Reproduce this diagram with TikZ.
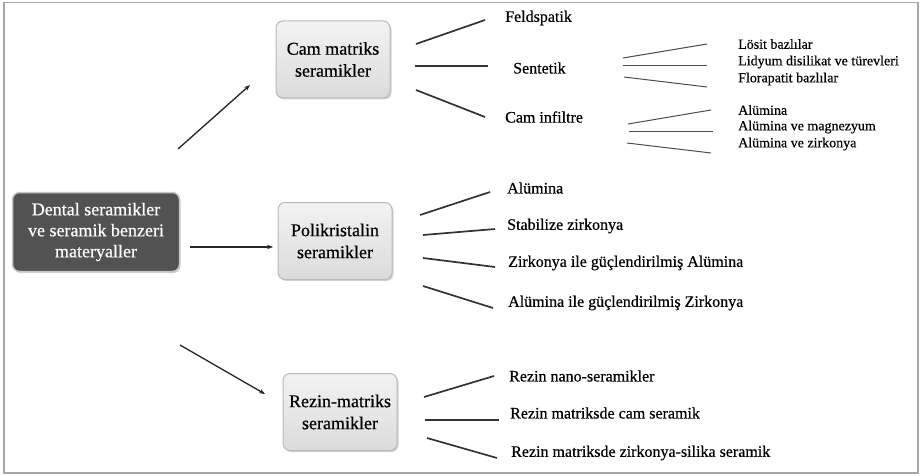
\documentclass[tikz,border=0pt]{standalone}
\usepackage{fontspec}
\setmainfont{Liberation Serif}[FakeBold=0.5]
\usetikzlibrary{shadows,arrows.meta}
\begin{document}
\begin{tikzpicture}[x=1pt,y=-1pt,
  catbox/.style={draw=gray!55,line width=1pt,rounded corners=7pt,top color=gray!10,bottom color=gray!28,
    minimum width=114pt,minimum height=77pt,align=center,font=\fontsize{18}{22}\selectfont,inner sep=2pt,
    drop shadow={shadow xshift=1.5pt,shadow yshift=-1.5pt,opacity=0.35}},
  rootbox/.style={fill=black!68,draw=gray!45,line width=1.5pt,rounded corners=7pt,text=white,
    minimum width=167pt,minimum height=79pt,align=center,font=\fontsize{18}{21}\selectfont,inner sep=2pt,
    drop shadow={shadow xshift=1pt,shadow yshift=-1.5pt,opacity=0.35}},
  lvtwo/.style={anchor=west,inner sep=0pt,font=\fontsize{16}{18}\selectfont},
  lvthree/.style={anchor=west,inner sep=0pt,font=\fontsize{14}{16}\selectfont},
  arr/.style={draw=black!85,line width=1.3pt,-{Stealth[length=6pt,width=4.5pt]}},
  brline/.style={draw=black!80,line width=1.7pt},
  subline/.style={draw=black!70,line width=1pt}]
\useasboundingbox (0,0) rectangle (921,476);
\draw[gray!70,line width=1.5pt] (4,2.5) rectangle (918,473);

% main boxes
\node[rootbox] (root) at (96,232) {Dental seramikler\\ve seramik benzeri\\materyaller};
\node[catbox] (cam) at (333,59.5) {Cam matriks\\seramikler};
\node[catbox] (poli) at (335,241) {Polikristalin\\seramikler};
\node[catbox] (rezin) at (340,412) {Rezin-matriks\\seramikler};

% arrows
\coordinate (a1s) at (178,149); \coordinate (a1e) at (250,85);
\coordinate (a2s) at (190,247); \coordinate (a2e) at (273,247);
\coordinate (a3s) at (180,345); \coordinate (a3e) at (265,394);
\draw[arr] (a1s) -- (a1e);
\draw[arr] (a2s) -- (a2e);
\draw[arr] (a3s) -- (a3e);

% Cam matriks branch
\node[lvtwo] (feld) at (505,18) {Feldspatik};
\node[lvtwo] (sent) at (513,68) {Sentetik};
\node[lvtwo] (infil) at (505,117) {Cam infiltre};
\coordinate (c1s) at (416,44); \coordinate (c1e) at (485,20);
\coordinate (c2s) at (415,66); \coordinate (c2e) at (488,66);
\coordinate (c3s) at (416,90); \coordinate (c3e) at (485,117);
\draw[brline] (c1s) -- (c1e);
\draw[brline] (c2s) -- (c2e);
\draw[brline] (c3s) -- (c3e);

% Sentetik sub
\node[lvthree] (losit) at (738,44) {Lösit bazlılar};
\node[lvthree] (lidyum) at (738,62) {Lidyum disilikat ve türevleri};
\node[lvthree] (flor) at (738,79) {Florapatit bazlılar};
\coordinate (s1s) at (623,58); \coordinate (s1e) at (707,44);
\coordinate (s2s) at (623,66); \coordinate (s2e) at (707,66);
\coordinate (s3s) at (624,77); \coordinate (s3e) at (707,87);
\draw[subline] (s1s) -- (s1e);
\draw[subline] (s2s) -- (s2e);
\draw[subline] (s3s) -- (s3e);

% Cam infiltre sub
\node[lvthree] (alu1) at (738,110) {Alümina};
\node[lvthree] (alumag) at (738,127) {Alümina ve magnezyum};
\node[lvthree] (aluzir) at (738,144) {Alümina ve zirkonya};
\coordinate (i1s) at (628,124); \coordinate (i1e) at (711,110);
\coordinate (i2s) at (629,132); \coordinate (i2e) at (713,132);
\coordinate (i3s) at (627,143); \coordinate (i3e) at (711,153);
\draw[subline] (i1s) -- (i1e);
\draw[subline] (i2s) -- (i2e);
\draw[subline] (i3s) -- (i3e);

% Polikristalin branch
\node[lvtwo] (palu) at (507,188) {Alümina};
\node[lvtwo] (pstab) at (507,226) {Stabilize zirkonya};
\node[lvtwo] (pzta) at (508,263) {Zirkonya ile güçlendirilmiş Alümina};
\node[lvtwo] (patz) at (508,303) {Alümina ile güçlendirilmiş Zirkonya};
\coordinate (p1s) at (420,215); \coordinate (p1e) at (490,192);
\coordinate (p2s) at (423,235); \coordinate (p2e) at (495,229);
\coordinate (p3s) at (423,258); \coordinate (p3e) at (495,267);
\coordinate (p4s) at (423,286); \coordinate (p4e) at (493,308);
\draw[brline] (p1s) -- (p1e);
\draw[brline] (p2s) -- (p2e);
\draw[brline] (p3s) -- (p3e);
\draw[brline] (p4s) -- (p4e);

% Rezin branch
\node[lvtwo] (rnano) at (509,376) {Rezin nano-seramikler};
\node[lvtwo] (rcam) at (510,413) {Rezin matriksde cam seramik};
\node[lvtwo] (rzir) at (511,453) {Rezin matriksde zirkonya-silika seramik};
\coordinate (r1s) at (424,397); \coordinate (r1e) at (494,376);
\coordinate (r2s) at (425,420); \coordinate (r2e) at (499,420);
\coordinate (r3s) at (427,438); \coordinate (r3e) at (497,458);
\draw[brline] (r1s) -- (r1e);
\draw[brline] (r2s) -- (r2e);
\draw[brline] (r3s) -- (r3e);
\end{tikzpicture}
\end{document}
